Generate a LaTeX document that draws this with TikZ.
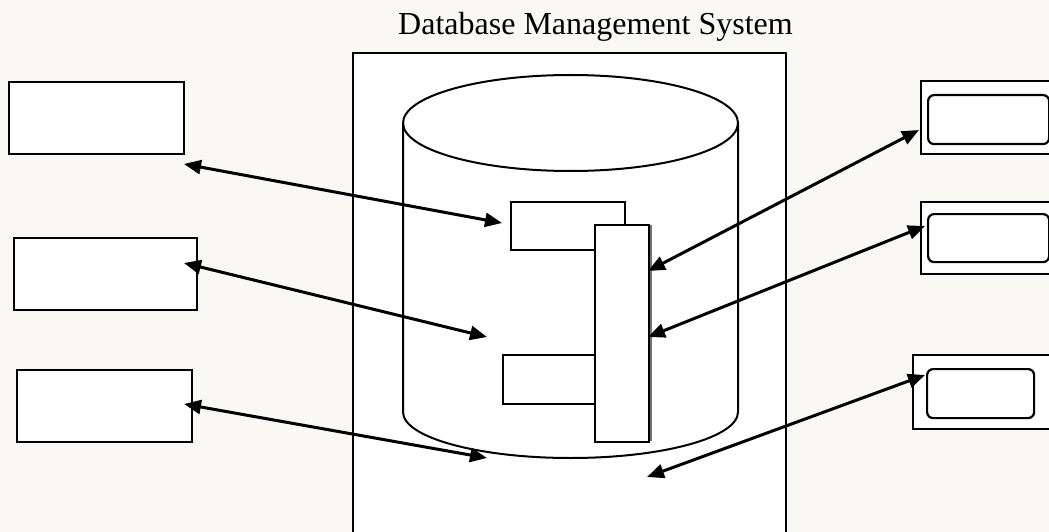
\documentclass[tikz,border=0pt]{standalone}
\usepackage{fontspec}
\setmainfont{Liberation Serif}
\usetikzlibrary{arrows.meta}
\definecolor{paper}{HTML}{FAF8F2}
\begin{document}
\begin{tikzpicture}[x=1pt,y=-1pt,
  box/.style={draw=black,fill=white,line width=2.4pt,inner sep=0pt,anchor=north west},
  inbox/.style={draw=black,fill=white,line width=2.2pt,rounded corners=6pt,inner sep=0pt,anchor=north west},
  link/.style={line width=3pt,{Triangle[length=17pt,width=14pt]}-{Triangle[length=17pt,width=14pt]}},
  drum/.style={line width=2pt}]
\useasboundingbox (0,0) rectangle (1049,532);
\fill[paper] (0,0) rectangle (1049,532);

% title and DBMS frame
\node[anchor=base,font=\fontsize{32}{36}\selectfont] (title) at (595.5,35) {Database Management System};
\draw[line width=2.4pt,fill=white] (353,560) -- (353,53) -- (786,53) -- (786,560);

% database drum
\draw[drum] (570.5,123) ellipse [x radius=167.5, y radius=48];
\draw[drum] (403,123) -- (403,412) arc[start angle=180, end angle=0, x radius=167.5, y radius=46] -- (738,123);

% components inside the drum
\node[box,minimum width=114pt,minimum height=48pt] (top) at (510,201) {};
\node[box,minimum width=92pt,minimum height=49pt] (low) at (502,354) {};
\node[box,minimum width=54pt,minimum height=217pt] (bar) at (594,224) {};
\draw[line width=1.2pt,black!55] (651,225) -- (651,441);

% outer clients (left)
\node[box,minimum width=175pt,minimum height=72pt] (l1) at (8,81) {};
\node[box,minimum width=183pt,minimum height=72pt] (l2) at (13,237) {};
\node[box,minimum width=175pt,minimum height=72pt] (l3) at (16,369) {};

% outer clients (right)
\node[box,minimum width=150pt,minimum height=73pt] (r1) at (920,80) {};
\node[inbox,minimum width=121pt,minimum height=49pt] (r1i) at (927,94) {};
\node[box,minimum width=150pt,minimum height=72pt] (r2) at (920,201) {};
\node[inbox,minimum width=121pt,minimum height=48pt] (r2i) at (927,213) {};
\node[box,minimum width=150pt,minimum height=74pt] (r3) at (912,354) {};
\node[inbox,minimum width=107pt,minimum height=49pt] (r3i) at (926,368) {};

% connector end points
\coordinate (a1) at (184,164);
\coordinate (a2) at (184,263);
\coordinate (a3) at (184,404);
\coordinate (b1) at (502,223);
\coordinate (b2) at (487,337);
\coordinate (b3) at (487,458);
\coordinate (c1) at (648,271);
\coordinate (c2) at (648,337);
\coordinate (c3) at (647,477);
\coordinate (d1) at (919,130);
\coordinate (d2) at (925,226);
\coordinate (d3) at (925,375);

\draw[link] (a1) -- (b1);
\draw[link] (a2) -- (b2);
\draw[link] (a3) -- (b3);
\draw[link] (c1) -- (d1);
\draw[link] (c2) -- (d2);
\draw[link] (c3) -- (d3);
\end{tikzpicture}
\end{document}
